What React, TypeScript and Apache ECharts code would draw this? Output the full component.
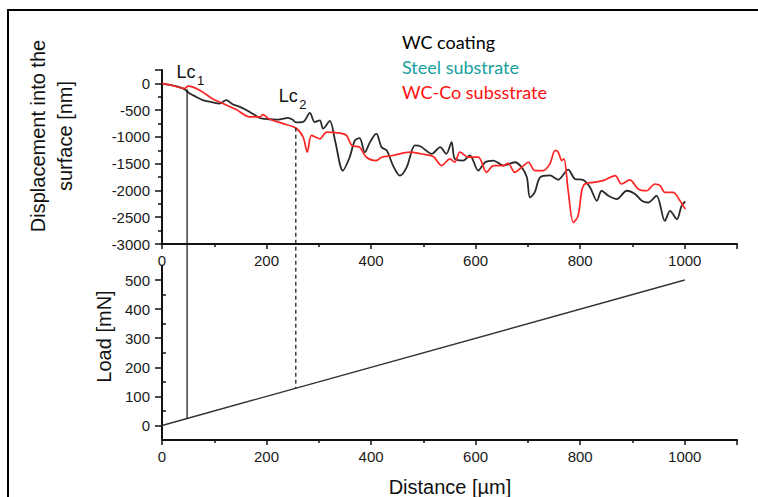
import React, { useEffect, useRef } from 'react';
import * as echarts from 'echarts';

// Distance [µm] tick labels and other tick label arrays
const distanceTicks = [0, 200, 400, 600, 800, 1000];
const depthTicks = [-3000, -2500, -2000, -1500, -1000, -500, 0];
const loadTicks = [0, 100, 200, 300, 400, 500];
const loadMinorTicks = [50, 150, 250, 350, 450];

// WC coating (black)
const wcDistance = [0, 15, 30, 43, 53, 65, 78, 95, 110, 123, 135, 149, 168, 187, 205, 219, 232, 241, 250, 256, 270, 283, 292, 302, 308, 321, 331, 346, 359, 369, 378, 388, 398, 410, 420, 430, 442, 455, 468, 484, 495, 516, 532, 544, 554, 560, 576, 589, 605, 618, 634, 653, 675, 688, 698, 704, 713, 723, 742, 758, 777, 790, 806, 819, 832, 841, 854, 870, 889, 905, 918, 930, 946, 962, 972, 985, 994, 1001];
const wcDepth = [0, -30, -60, -110, -188, -250, -314, -350, -376, -314, -390, -439, -533, -646, -670, -677, -660, -646, -680, -730, -721, -552, -721, -690, -846, -702, -1065, -1629, -1379, -1065, -1022, -1285, -1097, -940, -1191, -1253, -1535, -1723, -1567, -1159, -1180, -1315, -1191, -1315, -1097, -1409, -1441, -1347, -1629, -1473, -1441, -1535, -1473, -1567, -1755, -2131, -2037, -1760, -1720, -1800, -1610, -1785, -1804, -1943, -2193, -2005, -2099, -2161, -2005, -2067, -2193, -2225, -2099, -2569, -2381, -2537, -2287, -2206];

// WC-Co substrate (red)
const wcCoDistance = [0, 20, 43, 50, 72, 98, 117, 142, 168, 187, 193, 206, 232, 256, 270, 278, 286, 302, 315, 340, 353, 363, 378, 391, 410, 420, 442, 474, 495, 519, 535, 551, 560, 570, 586, 605, 621, 634, 653, 662, 675, 688, 701, 713, 729, 742, 752, 758, 765, 769, 777, 787, 796, 803, 809, 825, 844, 867, 879, 895, 911, 927, 943, 953, 962, 978, 991, 1001];
const wcCoDepth = [0, -40, -94, -51, -126, -295, -376, -489, -627, -627, -583, -671, -752, -834, -1003, -1285, -971, -1034, -909, -928, -971, -1159, -1191, -1379, -1441, -1379, -1347, -1285, -1315, -1366, -1535, -1409, -1473, -1285, -1379, -1379, -1661, -1535, -1535, -1492, -1661, -1567, -1473, -1629, -1629, -1503, -1253, -1285, -1441, -1409, -2005, -2600, -2475, -2005, -1879, -1849, -1817, -1723, -1879, -1804, -1973, -2005, -1879, -1911, -2037, -2037, -2193, -2349];

// Load [mN] vs distance
const loadDistance = [0, 200, 1000];
const loadValue = [0, 100, 500];

// Critical loads
const lcNames = ['1', '2'];
const lcDistance = [48, 256];
const lcTopDepth = [-110, -830];
const lcBottomLoad = [24, 128];

const legendLabels = ['WC coating', 'Steel substrate', 'WC-Co subsstrate'];
const legendColors = ['#000000', '#17a0a0', '#ff1010'];

const AXIS_FONT = '"Liberation Sans", Arial, sans-serif';
const axisColor = '#111111';
const labelColor = '#1a1a1a';

function pairs(xs: number[], ys: number[]) {
  return xs.map((x, i) => [x, ys[i]]);
}

export default function App() {
  const ref = useRef<HTMLDivElement>(null);
  useEffect(() => {
    if (!ref.current) return;
    const chart = echarts.init(ref.current, null, { renderer: 'svg' });

    const xAxisBase = (gridIndex: number) => ({
      type: 'value',
      gridIndex,
      min: 0,
      max: 1100,
      interval: 200,
      axisLine: { show: true, onZero: false, lineStyle: { color: axisColor, width: 2 } },
      axisTick: { show: true, length: 5, lineStyle: { color: axisColor, width: 1.5 } },
      minorTick: { show: true, splitNumber: 2, length: 3, lineStyle: { color: axisColor, width: 1.5 } },
      splitLine: { show: false },
      axisLabel: {
        fontSize: 15,
        fontFamily: AXIS_FONT,
        color: labelColor,
        margin: 9,
        formatter: (v: number) => (distanceTicks.includes(v) ? String(v) : ''),
      },
    });

    const option: any = {
      animation: false,
      grid: [
        { left: 162, right: 21, top: 70, height: 174 },
        { left: 162, right: 21, top: 265.5, height: 174.5 },
      ],
      xAxis: [xAxisBase(0), xAxisBase(1)],
      yAxis: [
        {
          type: 'value',
          gridIndex: 0,
          min: -3000,
          max: 250,
          interval: 500,
          axisLine: { show: true, onZero: false, lineStyle: { color: axisColor, width: 2 } },
          axisTick: { show: true, length: 7, lineStyle: { color: axisColor, width: 1.5 } },
          minorTick: { show: true, splitNumber: 2, length: 4, lineStyle: { color: axisColor, width: 1.5 } },
          splitLine: { show: false },
          axisLabel: {
            fontSize: 15,
            fontFamily: AXIS_FONT,
            color: labelColor,
            margin: 12,
            formatter: (v: number) => (depthTicks.includes(v) ? String(v) : ''),
          },
        },
        {
          type: 'value',
          gridIndex: 1,
          min: -50,
          max: 550,
          axisLine: { show: true, onZero: false, lineStyle: { color: axisColor, width: 2 } },
          axisTick: { show: true, length: 7, customValues: loadTicks, lineStyle: { color: axisColor, width: 1.5 } },
          splitLine: { show: false },
          axisLabel: {
            fontSize: 15,
            fontFamily: AXIS_FONT,
            color: labelColor,
            margin: 12,
            customValues: loadTicks,
            formatter: (v: number) => (loadTicks.includes(v) ? String(v) : ''),
          },
        },
        {
          type: 'value',
          gridIndex: 1,
          min: -50,
          max: 550,
          axisLine: { show: false },
          axisTick: { show: true, length: 4, customValues: loadMinorTicks, lineStyle: { color: axisColor, width: 1.5 } },
          axisLabel: { show: false },
          splitLine: { show: false },
        },
      ],
      series: [
        {
          type: 'line',
          name: legendLabels[0],
          xAxisIndex: 0,
          yAxisIndex: 0,
          data: pairs(wcDistance, wcDepth),
          showSymbol: false,
          smooth: 0.3,
          lineStyle: { color: '#2a2a2a', width: 1.8 },
        },
        {
          type: 'line',
          name: legendLabels[2],
          xAxisIndex: 0,
          yAxisIndex: 0,
          data: pairs(wcCoDistance, wcCoDepth),
          showSymbol: false,
          smooth: 0.3,
          lineStyle: { color: '#ff2424', width: 1.7 },
        },
        {
          type: 'line',
          name: 'Load',
          xAxisIndex: 1,
          yAxisIndex: 1,
          data: pairs(loadDistance, loadValue),
          showSymbol: false,
          lineStyle: { color: '#333333', width: 1.4 },
        },
      ],
    };
    chart.setOption(option);

    const graphics: any[] = [];
    graphics.push({
      type: 'rect',
      shape: { x: 8, y: 10, width: 800, height: 600 },
      style: { fill: 'none', stroke: '#000', lineWidth: 2 },
      silent: true,
    });

    lcDistance.forEach((d, i) => {
      const p1 = chart.convertToPixel({ gridIndex: 0 } as any, [d, lcTopDepth[i]]) as number[];
      const p2 = chart.convertToPixel({ gridIndex: 1 } as any, [d, lcBottomLoad[i]]) as number[];
      graphics.push({
        type: 'line',
        shape: { x1: p1[0], y1: p1[1], x2: p2[0], y2: p2[1] },
        style: { stroke: '#111', lineWidth: 1.2, lineDash: i === 0 ? null : [4, 3] },
        z: 10,
      });
      const offX = i === 0 ? -10.6 : -17;
      const offY = i === 0 ? -17 : -31.5;
      graphics.push({
        type: 'text',
        x: p1[0] + offX,
        y: p1[1] + offY,
        style: {
          text: 'Lc',
          fontSize: 18,
          fontFamily: AXIS_FONT,
          fill: '#111',
          align: 'left',
          verticalAlign: 'middle',
          textAlign: 'left',
          textVerticalAlign: 'middle',
        },
        z: 10,
      });
      graphics.push({
        type: 'text',
        x: p1[0] + offX + 20.5,
        y: p1[1] + offY + 8,
        style: {
          text: lcNames[i],
          fontSize: 13,
          fontFamily: AXIS_FONT,
          fill: '#111',
          align: 'left',
          verticalAlign: 'middle',
          textAlign: 'left',
          textVerticalAlign: 'middle',
        },
        z: 10,
      });
    });

    legendLabels.forEach((t, i) => {
      graphics.push({
        type: 'text',
        x: 402,
        y: 41.7 + i * 25,
        style: {
          text: t,
          fontSize: 18,
          fontFamily: 'Lato, "Open Sans", sans-serif',
          fill: legendColors[i],
          align: 'left',
          verticalAlign: 'middle',
          textAlign: 'left',
          textVerticalAlign: 'middle',
        },
      });
    });

    const nameStyle = (text: string) => ({
      text,
      fontSize: 20,
      fontFamily: AXIS_FONT,
      fill: '#111',
      align: 'center',
      verticalAlign: 'middle',
      textAlign: 'center',
      textVerticalAlign: 'middle',
      lineHeight: 27,
    });
    graphics.push({ type: 'text', x: 51, y: 136, rotation: Math.PI / 2, style: nameStyle('Displacement into the\nsurface [nm]') });
    graphics.push({ type: 'text', x: 104, y: 336.5, rotation: Math.PI / 2, style: nameStyle('Load [mN]') });
    graphics.push({ type: 'text', x: 450, y: 487, style: nameStyle('Distance [\u00b5m]') });

    chart.setOption({ graphic: graphics });

    return () => chart.dispose();
  }, []);
  return <div ref={ref} style={{ position: 'absolute', left: 0, top: 0, width: 758, height: 497, background: '#fff' }} />;
}
